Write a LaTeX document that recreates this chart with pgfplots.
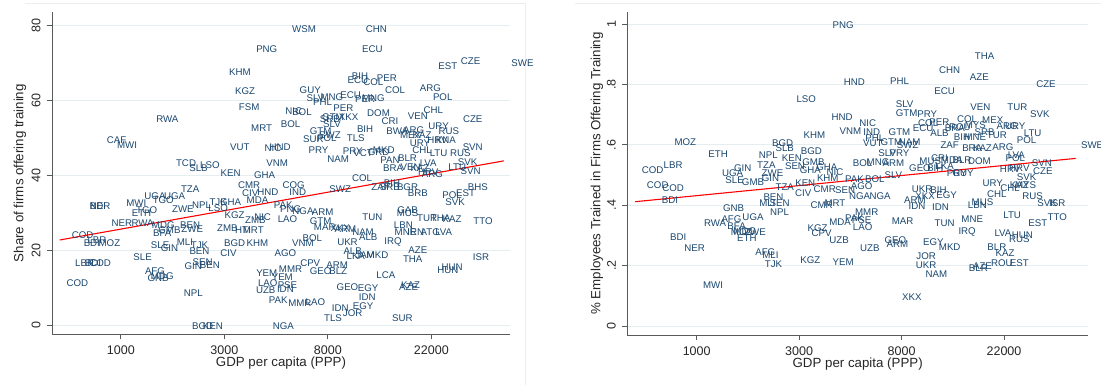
\documentclass[border=0pt]{standalone}
\usepackage{fontspec}
\setmainfont{Liberation Sans}
\usepackage{pgfplots}
\usepackage{pgfplotstable}
\pgfplotsset{compat=1.18}
\definecolor{navy}{RGB}{26,71,111}
\definecolor{gridc}{RGB}{228,237,240}
\definecolor{axc}{RGB}{90,90,90}

\pgfplotstableread{
x y c
8.77 79.1 WSM
9.47 79.1 CHN
8.41 73.7 PNG
9.43 73.7 ECU
10.16 69.2 EST
10.38 70.5 CZE
10.88 70.0 SWE
8.15 67.6 KHM
8.20 62.5 KGZ
8.24 58.3 FSM
7.45 55.1 RWA
8.36 52.7 MRT
6.96 49.5 CAF
7.06 48.1 MWI
8.15 47.6 VUT
8.47 47.3 NIC
8.54 47.6 HND
8.51 43.3 VNM
7.63 43.3 TCD
7.75 42.0 SLB
7.86 42.8 LSO
8.06 40.7 KEN
8.39 40.1 GHA
8.24 37.5 CMR
8.25 35.3 CIV
8.42 35.6 HND
8.67 37.5 COG
8.71 35.6 IND
7.67 36.4 TZA
7.33 34.5 UGA
7.52 34.5 UGA
7.41 33.5 TGO
6.80 31.9 NER
6.78 31.9 BDI
7.15 32.7 MWI
7.25 30.8 TGO
7.20 30.0 ETH
7.01 27.3 NER
7.21 27.3 RWA
7.41 26.8 MDG
7.40 24.7 BFA
7.47 25.5 GMB
7.67 26.8 BEN
7.69 25.7 ZWE
6.63 24.1 COD
6.77 22.8 LBR
6.72 22.0 BDI
6.89 22.0 MOZ
7.38 21.5 SLE
7.47 20.7 GIN
7.62 22.3 MLI
7.76 21.5 TJK
7.76 19.9 BEN
7.21 18.3 SLE
6.65 16.7 LBR
6.73 16.7 BDI
6.80 16.7 COD
7.33 14.5 AFG
7.36 12.7 GNB
7.40 13.2 MDG
7.79 16.9 SEN
7.70 15.9 GIN
7.86 16.1 BEN
6.58 11.3 COD
7.70 8.7 NPL
7.79 -0.1 BGD
7.89 -0.1 KEN
8.57 -0.1 NGA
7.60 31.1 ZWE
7.78 32.1 NPL
7.94 32.9 TJK
8.06 32.9 GHA
7.94 31.3 LSO
8.10 29.5 KGZ
8.32 33.5 MDA
8.57 32.1 PAK
8.64 31.1 PNG
8.76 30.5 NGA
8.95 30.3 ARM
8.37 28.9 NIC
8.30 28.1 ZMB
8.61 28.4 LAO
8.93 27.9 GTM
8.97 26.3 MAR
8.03 26.0 ZMB
8.18 25.5 HTI
8.28 25.5 MRT
8.10 22.0 BGD
8.32 22.0 KHM
8.04 19.3 CIV
8.59 19.3 AGO
8.76 22.0 VNM
8.85 23.3 BOL
8.83 16.7 CPV
8.64 15.1 MMR
8.41 14.0 YEM
8.56 12.9 YEM
8.93 14.5 GEO
9.10 14.5 BLZ
9.09 16.1 ARM
8.42 11.3 LAO
8.61 10.8 PSE
8.59 9.7 IDN
8.40 9.5 UZB
8.52 6.8 PAK
8.73 6.0 MMR
8.88 6.3 LAO
9.31 66.5 BIH
9.29 65.5 ECU
9.44 64.9 COL
9.57 66.0 PER
9.65 62.8 COL
9.99 63.3 ARG
10.11 60.9 POL
8.83 62.8 GUY
8.88 60.7 SLV
9.04 60.9 MNG
8.95 59.6 PHL
9.22 61.5 ECU
9.36 60.4 PER
9.44 60.7 MNG
8.67 57.2 NIC
8.75 56.9 BOL
9.15 58.0 PER
9.05 55.6 GTM
9.20 55.6 XKX
9.02 55.1 SRB
9.04 53.7 SLV
9.49 56.7 DOM
9.60 54.5 CRI
9.87 55.9 VEN
10.02 57.5 CHL
10.40 55.1 CZE
8.64 53.7 BOL
9.36 52.4 BIH
8.93 51.9 GTM
9.02 50.8 SWZ
9.67 51.9 BWA
9.83 52.1 ARG
10.07 53.2 URY
10.17 51.9 RUS
9.80 50.8 MEX
9.91 50.8 KAZ
9.89 48.7 URY
10.06 49.5 HRV
10.14 49.5 KNA
9.27 50.0 TLS
8.86 49.7 SUR
8.99 50.0 POL
8.91 46.8 PRY
9.10 44.4 NAM
9.24 46.5 PRY
9.34 46.0 VCT
9.49 46.3 GRD
9.54 46.8 MKD
9.91 46.8 CHL
10.07 46.0 LTU
10.28 46.0 RUS
10.40 47.6 SVN
9.60 44.1 PAN
9.77 44.7 BLR
9.97 43.3 LVA
9.63 42.0 BRA
9.80 42.3 VEN
9.89 42.0 KAZ
10.01 40.4 ARG
9.97 40.9 HRV
10.35 43.6 SVK
10.25 42.3 LTU
10.38 41.2 SVN
9.33 39.3 COL
9.12 36.4 SWZ
9.51 36.9 ZAF
9.60 36.9 SRB
9.62 38.0 BIH
9.77 36.9 BGR
9.87 35.3 BRB
10.45 36.9 BHS
10.20 34.8 POL
10.33 35.3 EST
10.23 32.9 SVK
9.77 30.8 GAB
9.77 30.0 MUS
9.43 28.9 TUN
9.96 28.7 TUR
10.09 28.7 THA
10.20 28.4 KAZ
10.50 27.9 TTO
9.73 26.8 LBN
9.75 24.9 MNE
9.85 24.9 IRN
9.99 24.9 ATG
10.12 24.9 LVA
9.63 22.3 IRQ
9.39 23.6 ALB
9.34 24.9 NAM
9.19 22.3 UKR
9.24 19.9 ALB
9.27 18.5 LKA
9.36 18.8 JAM
9.48 18.8 MKD
9.87 20.1 AZE
9.82 17.7 THA
10.48 18.3 ISR
10.20 15.6 HUN
10.16 14.8 HUN
9.56 13.5 LCA
9.80 10.8 KAZ
9.78 10.3 AZE
9.19 10.3 GEO
9.39 10.0 EGY
9.38 7.6 IDN
9.34 5.2 EGY
9.12 4.7 IDN
9.24 3.3 JOR
9.05 2.0 TLS
9.72 2.0 SUR
9.12 26.0 XKX
9.17 25.7 ARM
}\leftdata

\pgfplotstableread{
x y c
8.43 0.997 PNG
9.81 0.894 THA
9.47 0.848 CHN
9.76 0.825 AZE
8.54 0.808 HND
8.98 0.811 PHL
9.42 0.778 ECU
10.41 0.801 CZE
8.07 0.752 LSO
9.03 0.735 SLV
9.77 0.725 VEN
10.13 0.725 TUR
10.35 0.702 SVK
8.42 0.692 HND
9.05 0.705 GTM
9.25 0.702 PRY
8.67 0.672 NIC
8.50 0.646 VNM
8.71 0.642 IND
8.98 0.642 GTM
8.15 0.632 KHM
9.21 0.656 ECU
9.26 0.672 COL
9.37 0.675 PER
9.37 0.639 ALB
9.64 0.685 COL
9.89 0.682 MEX
10.03 0.662 ARG
10.11 0.662 URY
9.57 0.659 ROU
9.72 0.666 MYS
9.52 0.656 BRA
9.93 0.632 TUR
9.59 0.626 BIH
9.72 0.626 MNE
9.81 0.642 SRB
10.28 0.639 LTU
10.22 0.616 POL
10.86 0.599 SWE
9.47 0.599 ZAF
9.69 0.589 BRA
9.79 0.589 KAZ
9.99 0.593 ARG
10.12 0.566 LVA
10.11 0.556 POL
9.76 0.546 DOM
10.37 0.540 SVN
10.06 0.520 HRV
10.15 0.523 HRV
10.38 0.513 CZE
10.22 0.493 SVK
9.54 0.507 PRY
9.60 0.507 GUY
8.62 0.540 BOL
8.77 0.543 MNG
8.86 0.573 SLV
8.98 0.573 PRY
8.92 0.540 ARM
8.74 0.623 PHL
8.72 0.606 VUT
8.90 0.609 GTM
9.08 0.609 NAM
9.06 0.599 SWZ
8.74 0.487 BOL
8.54 0.487 PAK
8.27 0.527 GHA
8.35 0.510 NIC
8.28 0.490 KHM
8.45 0.450 SEN
8.61 0.464 AGO
8.59 0.430 NGA
8.79 0.430 NGA
8.35 0.407 MRT
8.22 0.401 CMR
7.86 0.460 TZA
8.06 0.474 KEN
8.04 0.440 CIV
8.25 0.454 CMR
8.92 0.500 SLV
9.18 0.523 GEO
9.33 0.523 BIH
9.42 0.530 LKA
9.49 0.550 MDA
9.37 0.556 CRI
9.59 0.550 BLR
9.28 0.546 MUS
6.89 0.609 MOZ
7.21 0.570 ETH
6.57 0.517 COD
6.77 0.533 LBR
6.62 0.467 COD
6.77 0.457 COD
6.74 0.417 BDI
7.70 0.566 NPL
7.84 0.606 BGD
7.86 0.589 SLB
8.12 0.579 BGD
7.93 0.556 KEN
8.14 0.543 GMB
8.11 0.517 GHA
7.96 0.530 SEN
7.68 0.533 TZA
7.35 0.507 UGA
7.45 0.523 GIN
7.37 0.483 SLE
7.55 0.477 GMB
7.74 0.507 ZWE
7.72 0.490 GIN
7.69 0.407 MLI
7.75 0.427 BEN
7.81 0.407 SEN
7.81 0.377 NPL
7.36 0.391 GNB
7.55 0.361 UGA
7.34 0.354 AFG
7.18 0.341 RWA
7.39 0.331 BFA
7.47 0.315 MDG
7.44 0.311 MOZ
7.57 0.311 ZWE
7.49 0.291 ETH
6.82 0.295 BDI
6.98 0.258 NER
7.67 0.245 AFG
7.72 0.235 MLI
7.75 0.205 TJK
7.16 0.136 MWI
8.11 0.219 KGZ
8.43 0.212 YEM
8.18 0.325 KGZ
8.22 0.308 CPV
8.40 0.344 MDA
8.54 0.358 PAK
8.61 0.351 PSE
8.66 0.377 MMR
8.62 0.328 LAO
8.39 0.285 UZB
8.69 0.258 UZB
9.01 0.348 MAR
8.94 0.285 GEO
8.96 0.272 ARM
9.42 0.341 TUN
9.15 0.397 IDN
9.38 0.394 IDN
9.13 0.417 ARM
9.20 0.454 UKR
9.36 0.450 BIH
9.44 0.434 EGY
9.23 0.430 XKX
9.31 0.278 EGY
9.47 0.262 MKD
9.24 0.232 JOR
9.24 0.202 UKR
9.34 0.172 NAM
9.10 0.096 XKX
9.64 0.311 IRQ
9.69 0.354 MNE
9.74 0.401 LBN
9.79 0.411 MUS
9.93 0.437 CHL
9.89 0.474 URY
10.06 0.457 CHL
10.15 0.467 KAZ
10.21 0.467 MYS
10.28 0.430 RUS
10.42 0.407 SVK
10.52 0.407 ISR
10.52 0.361 TTO
10.33 0.341 EST
10.08 0.368 LTU
9.99 0.308 LVA
10.18 0.301 HUN
10.15 0.288 RUS
9.93 0.262 BLR
10.01 0.242 KAZ
9.79 0.199 AZE
9.75 0.192 BLR
9.98 0.209 ROU
10.15 0.209 EST
}\rightdata

\pgfplotsset{
  stata/.style={
    scale only axis,
    axis lines*=left,
    axis line style={axc, line width=0.8pt},
    tick pos=left,
    tick align=outside,
    major tick length=5pt,
    tick style={axc, line width=0.8pt},
    ymajorgrids,
    grid style={gridc, line width=0.8pt},
    clip=false,
    xtick={7,8,9,10},
    xticklabels={1000,3000,8000,22000},
    /pgf/number format/assume math mode=true,
    ticklabel style={font=\fontsize{12.5}{13}\selectfont, text=black!85},
    ticklabel shift=3pt,
    yticklabel style={rotate=90, anchor=south},
    label style={font=\fontsize{13.3}{14}\selectfont, text=black!85},
    xlabel={GDP per capita (PPP)},
    xlabel style={at={(axis description cs:0.5,-0.089)}, anchor=center},
  },
  lbl/.style={only marks, mark=none, nodes near coords, point meta=explicit symbolic,
    nodes near coords align=center,
    every node near coord/.append style={font=\fontsize{9.7}{10}\selectfont, text=navy, inner sep=0pt, anchor=center}},
}

\begin{document}
\begin{tikzpicture}
\useasboundingbox (0,0) rectangle (1101pt,385pt);
\draw[black!7, line width=0.6pt] (25pt,382pt) -- (525pt,382pt) -- (525pt,0pt);
\draw[black!7, line width=0.6pt] (575pt,382pt) -- (1101pt,382pt);

\begin{axis}[stata,
  at={(52pt,50.7pt)}, anchor=south west,
  width=458pt, height=322.3pt,
  xmin=6.335, xmax=10.76, ymin=-2.35, ymax=83.6,
  ytick={0,20,40,60,80}, yticklabels={0,20,40,60,80},
  ylabel={Share of firms offering training},
  ylabel style={at={(axis description cs:-0.0699,0.5)}, anchor=center},
]
\addplot[lbl] table[x=x, y=y, meta=c] {\leftdata};
\addplot[red, line width=1.1pt] coordinates {(6.41,22.8) (10.70,43.9)};
\end{axis}

\begin{axis}[stata,
  at={(627.3pt,50pt)}, anchor=south west,
  width=460.7pt, height=323pt,
  xmin=6.323, xmax=10.82, ymin=-0.03, ymax=1.04,
  ytick={0,0.2,0.4,0.6,0.8,1}, yticklabels={0,.2,.4,.6,.8,1},
  ylabel={\% Employees Trained in Firms Offering Training},
  ylabel style={at={(axis description cs:-0.0658,0.5)}, anchor=center},
]
\addplot[lbl] table[x=x, y=y, meta=c] {\rightdata};
\addplot[red, line width=1.1pt] coordinates {(6.40,0.4116) (10.70,0.555)};
\end{axis}
\end{tikzpicture}
\end{document}
